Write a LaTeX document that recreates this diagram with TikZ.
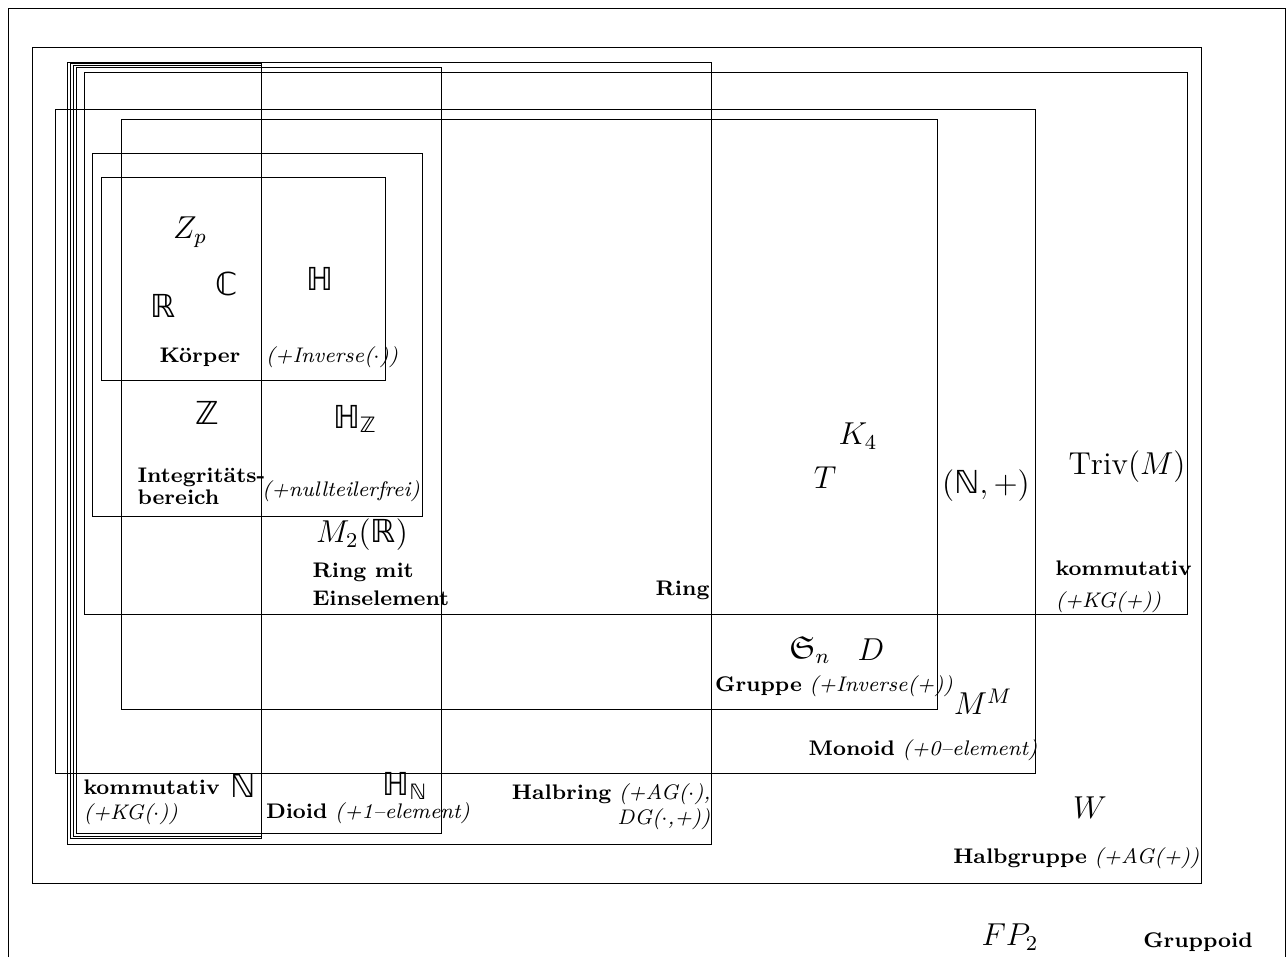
\documentclass[tikz,border=0pt]{standalone}
\usepackage{amssymb}
\usepackage{amsmath}
\usepackage{fontspec}
\newfontfamily\dsfam{DejaVu Sans}
\newcommand{\dsl}[1]{\text{\dsfam #1}}
\begin{document}
\begin{tikzpicture}[x=0.3788pt,y=-0.3788pt,
  box/.style={draw=black,line width=0.35pt},
  lbl/.style={font=\footnotesize\bfseries,inner sep=0pt},
  cond/.style={font=\footnotesize\itshape,inner sep=0pt},
  mix/.style={font=\footnotesize,inner sep=0pt},
  elem/.style={font=\large,inner sep=0pt}]
\useasboundingbox (0,0) rectangle (1286,957);
% Gruppoid (open at the bottom)
\draw[box] (8,957) -- (8,8) -- (1285,8) -- (1285,957);
% Halbgruppe
\draw[box] (32,47) rectangle (1201,883);
% kommutativ (+)
\draw[box] (84,72) rectangle (1187,614);
% Monoid
\draw[box] (55,109) rectangle (1035,773);
% Gruppe
\draw[box] (121,119) rectangle (937,709);
% Halbring
\draw[box] (67,62) rectangle (711,844);
% Dioid
\draw[box] (76,67) rectangle (441,833);
% kommutativ (.)
\draw[box] (70,63) rectangle (261,838);
\draw[box] (73,65) rectangle (261,836);
% Integritaetsbereich
\draw[box] (92,153) rectangle (422,516);
% Koerper
\draw[box] (101,177) rectangle (385,380);

% elements
\node[elem] (zp) at (190,232) {$Z_p$};
\node[elem] (cc) at (227,284) {$\dsl{ℂ}$};
\node[elem] (rr) at (163,306) {$\dsl{ℝ}$};
\node[elem] (hh) at (320,279) {$\dsl{ℍ}$};
\node[elem] (zz) at (207,413) {$\dsl{ℤ}$};
\node[elem] (hz) at (355,419) {$\dsl{ℍ}_{\dsl{ℤ}}$};
\node[elem] (m2) at (362,535) {$M_2(\dsl{ℝ})$};
\node[elem] (k4) at (858,436) {$K_4$};
\node[elem] (tt) at (825,478) {$T$};
\node[elem] (np) at (986,486) {$(\dsl{ℕ},+)$};
\node[elem] (tr) at (1127,467) {$\mathrm{Triv}(M)$};
\node[elem] (sn) at (810,650) {$\mathfrak{S}_n$};
\node[elem] (dd) at (871,650) {$D$};
\node[elem] (mm) at (983,702) {$M^M$};
\node[elem] (nn) at (243,786) {$\dsl{ℕ}$};
\node[elem] (hn) at (405,786) {$\dsl{ℍ}_{\dsl{ℕ}}$};
\node[elem] (ww) at (1090,808) {$W$};
\node[elem] (fp) at (1010,937) {$FP_2$};

% labels
\node[lbl] (lk) at (200,357) {Körper};
\node[cond] (lki) at (332,357) {(+Inverse($\cdot$))};
\node[lbl,align=left,anchor=west] (li) at (137,486) {Integritäts-\\[-1.2pt]bereich};
\node[cond] (lin) at (341,491) {(+nullteilerfrei)};
\node[lbl,align=left,anchor=west] (lre) at (312,584) {Ring mit\\[1pt]Einselement};
\node[lbl,anchor=east] (lr) at (710,590) {Ring};
\node[mix,align=left,anchor=west] (lka) at (1055,587) {\textbf{kommutativ}\\[2.5pt]\textit{(+KG(+))}};
\node[mix] (lg) at (834,686) {\textbf{Gruppe} \textit{(+Inverse(+))}};
\node[mix] (lm) at (923,750) {\textbf{Monoid} \textit{(+0--element)}};
\node[mix,align=left,anchor=west] (lkm) at (83,802) {\textbf{kommutativ}\\\textit{(+KG($\cdot$))}};
\node[mix] (ld) at (368,813) {\textbf{Dioid} \textit{(+1--element)}};
\node[mix,align=right,anchor=east] (lh) at (711,807) {\textbf{Halbring} \textit{(+AG($\cdot$),}\\\textit{DG($\cdot$,+))}};
\node[mix,anchor=east] (lhg) at (1200,858) {\textbf{Halbgruppe} \textit{(+AG(+))}};
\node[lbl] (lgp) at (1198,942) {Gruppoid};
\end{tikzpicture}
\end{document}
